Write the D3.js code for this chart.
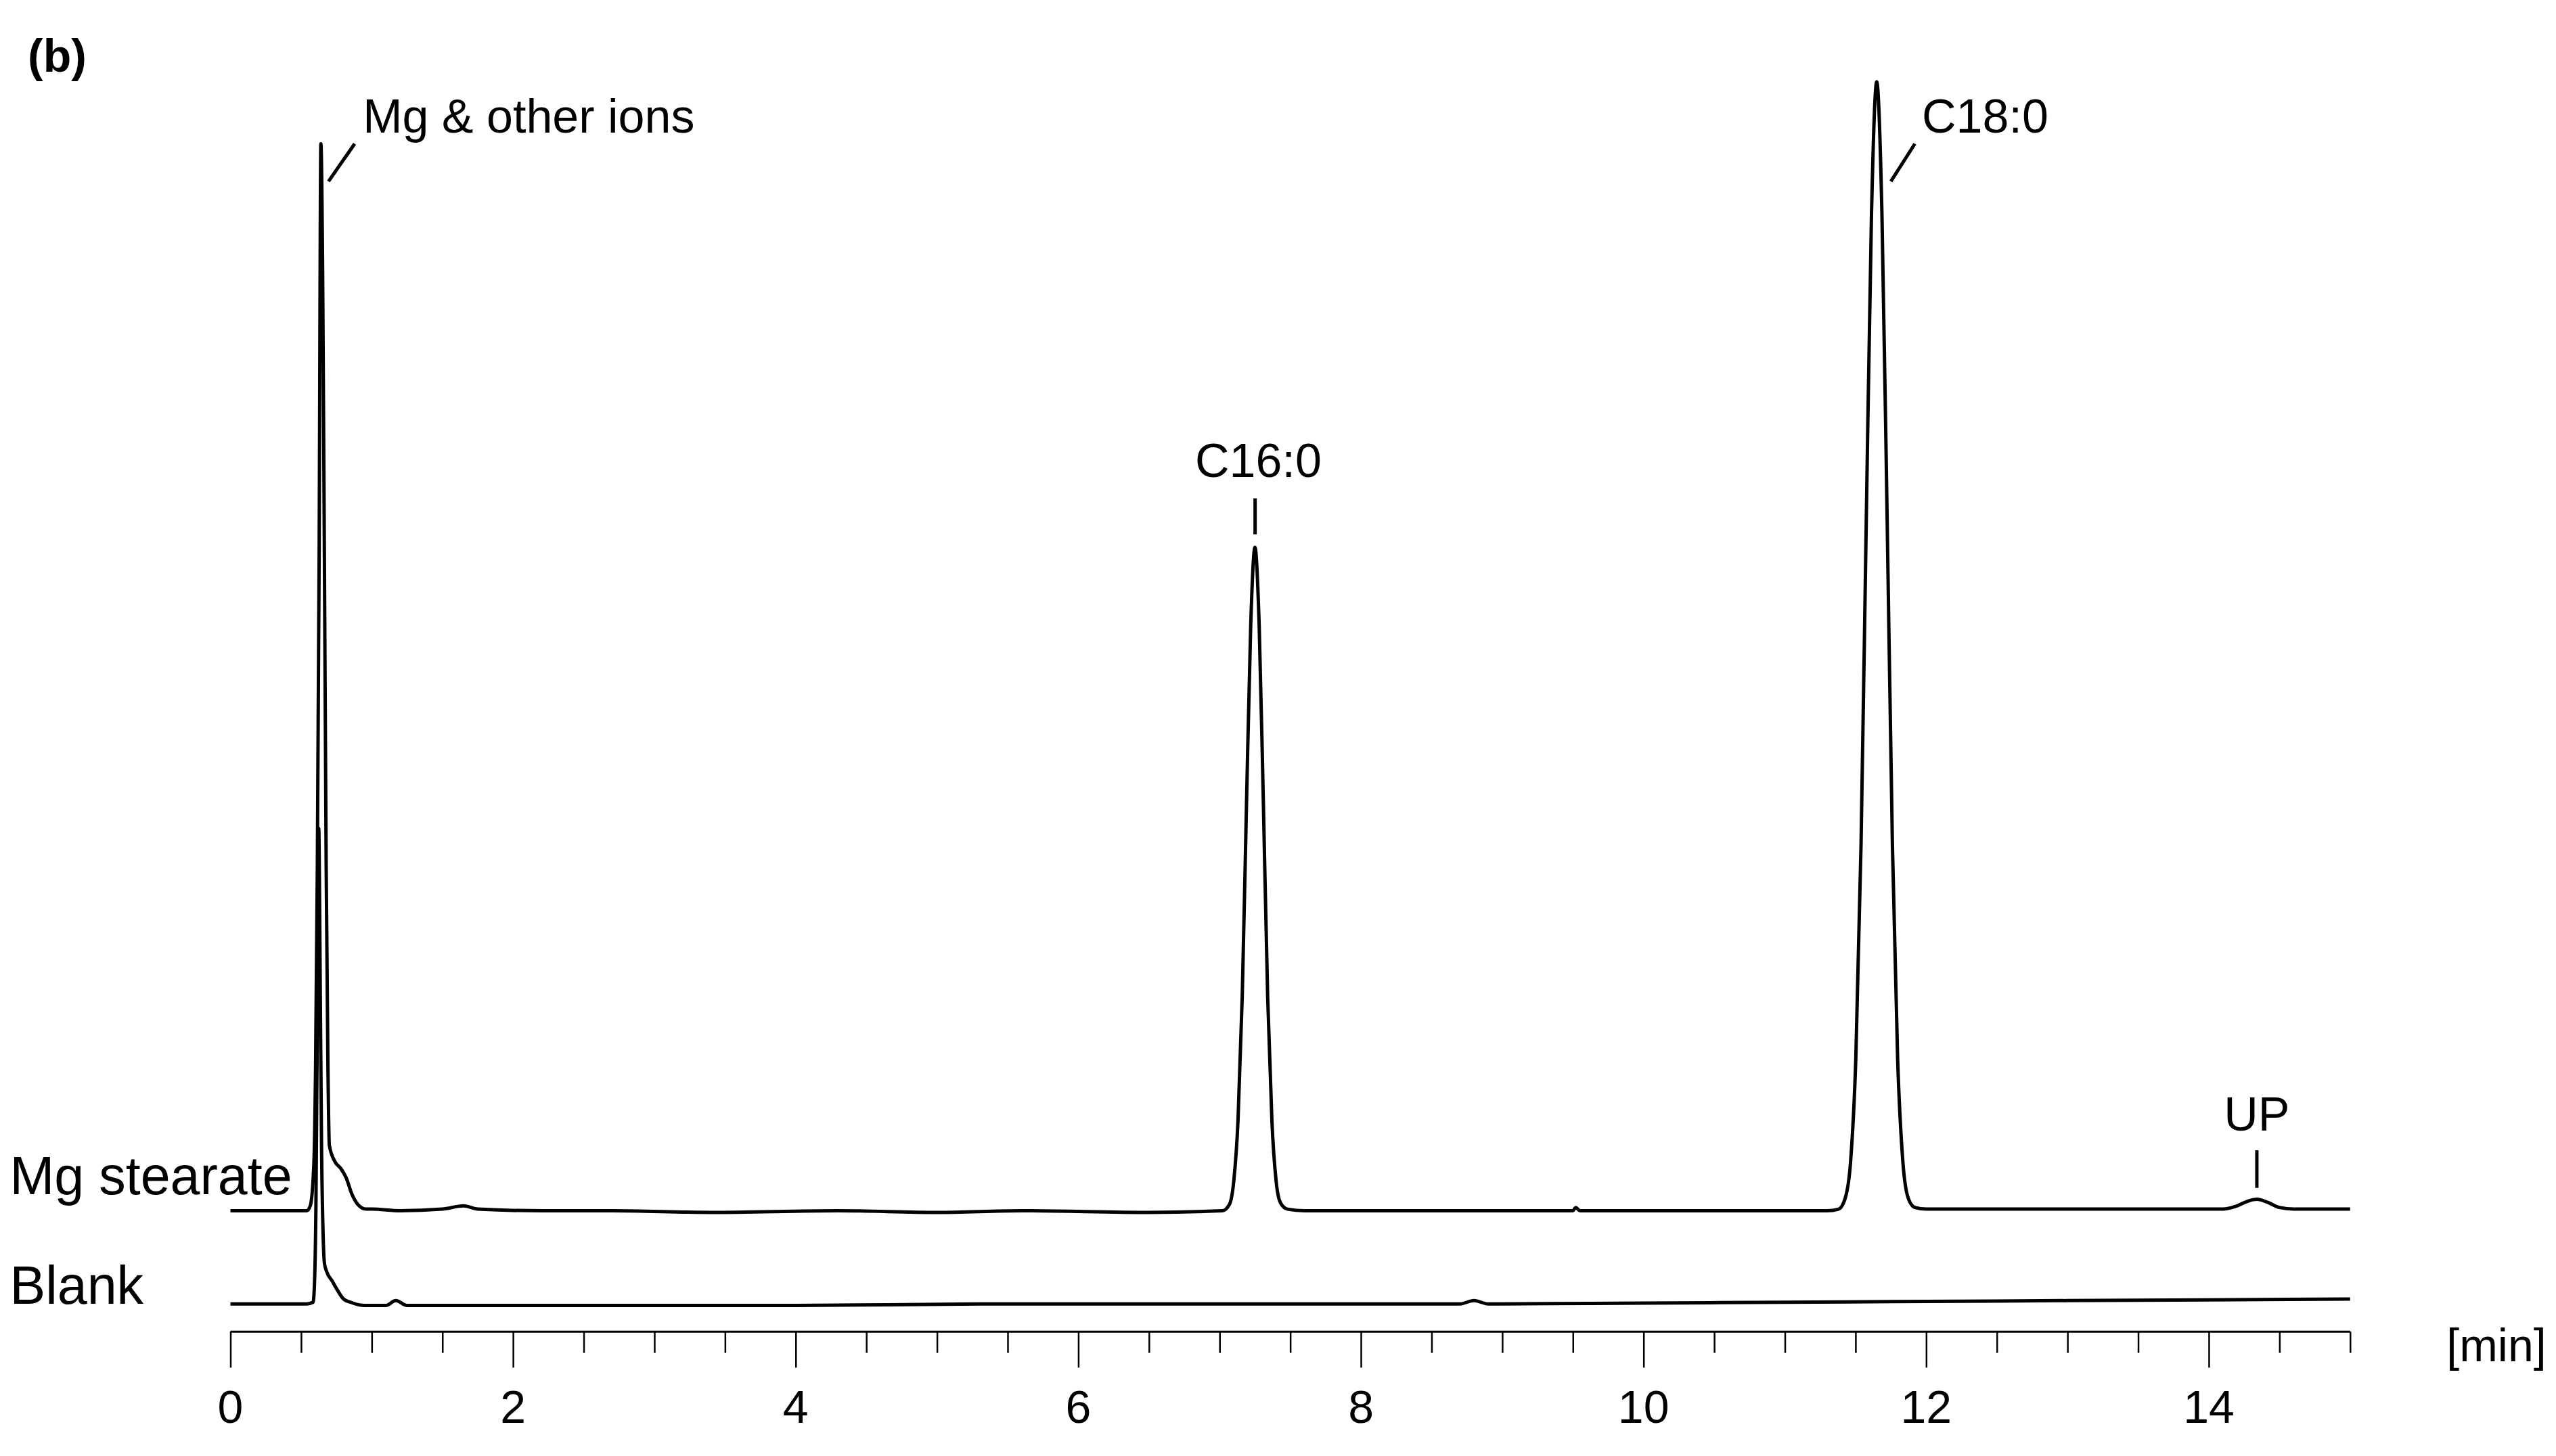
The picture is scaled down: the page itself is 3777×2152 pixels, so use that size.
<!DOCTYPE html>
<html><head><meta charset="utf-8">
<script src="https://cdn.jsdelivr.net/npm/d3@7"></script>
<style>body{margin:0;background:#fff}svg{display:block}text{font-family:"Liberation Sans",Arial,sans-serif;fill:#000}</style>
</head><body><svg id="c" width="3777" height="2152"></svg>
<script>
const xTicks=[0,2,4,6,8,10,12,14];
const stearateOffset=57;
// [time (min), signal] Mg stearate trace
const stearate=[[0,0],[0.3,0],[0.54,0],[0.565,3],[0.59,28],[0.6025,88],[0.615,211],[0.6275,398],[0.64,653],[0.6525,575],[0.665,398],[0.6775,211],[0.69,88],[0.70,40],[0.74,30],[0.78,26],[0.82,20],[0.86,10],[0.9,4],[0.96,1],[1.0,1],[1.2,0],[1.5,1],[1.65,3],[1.75,1],[2.2,0],[2.7,0],[3.4,-1],[4.3,0],[5.0,-1],[5.6,0],[6.5,-1],[7.02,0],[7.07,4],[7.10,18],[7.13,55],[7.16,131],[7.19,248],[7.22,358],[7.25,406],[7.28,358],[7.31,248],[7.34,131],[7.37,55],[7.40,18],[7.43,5],[7.48,1],[7.6,0],[8.5,0],[9.5,0],[9.52,2],[9.55,0],[10.5,0],[11.3,0],[11.38,1],[11.428,8],[11.465,30],[11.502,93],[11.539,224],[11.576,422],[11.613,610],[11.65,691],[11.687,610],[11.724,422],[11.761,224],[11.798,93],[11.835,30],[11.872,8],[11.92,2],[12.0,1],[13.0,1],[14.1,1],[14.2,3],[14.28,6],[14.34,7],[14.42,5],[14.5,2],[14.6,1],[15,1]];
// Blank trace
const blank=[[0,0],[0.3,0],[0.54,0],[0.585,1],[0.595,13],[0.605,60],[0.615,176],[0.62,240],[0.625,291],[0.63,256],[0.635,200],[0.645,94],[0.655,45],[0.665,25],[0.68,20],[0.72,14],[0.76,8],[0.8,3],[0.85,1],[0.95,-1],[1.1,-1],[1.17,2],[1.25,-1],[2,-1],[3,-1],[4,-1],[5.3,0],[6,0],[7,0],[8,0],[8.7,0],[8.8,2],[8.9,0],[10,0.5],[11,1],[12,1.5],[13,2],[14,2.5],[15,3]];
// peak labels: text position (time, signal) and leader line (t1,s1,t2,s2)
const peakLabels=[
 {t:"Mg & other ions",x:0.937,y:717,anchor:"start",lead:[0.694,687,0.879,710]},
 {t:"C16:0",x:7.274,y:506,anchor:"middle",lead:[7.251,471,7.251,493]},
 {t:"C18:0",x:11.97,y:717,anchor:"start",lead:[11.75,687,11.92,710]},
 {t:"UP",x:14.34,y:106,anchor:"middle",lead:[14.34,71,14.34,94]}];
const K=2.415;
const svg=d3.select("#c");
const x=d3.scaleLinear().domain([0,15]).range([141*K,1438*K]);
const y=d3.scaleLinear().domain([0,720]).range([798*K,78*K]);
const line=d3.line().x(d=>x(d[0])).y(d=>y(d[1])).curve(d3.curveMonotoneX);
svg.append("path").datum(stearate.map(d=>[d[0],d[1]+stearateOffset])).attr("d",line).attr("fill","none").attr("stroke","#000").attr("stroke-width",5);
svg.append("path").datum(blank).attr("d",line).attr("fill","none").attr("stroke","#000").attr("stroke-width",5);
const ax=svg.append("g").attr("transform",`translate(0,${815*K})`);
ax.call(d3.axisBottom(x).tickValues(d3.range(0,15.01,0.5)).tickSize(22*K).tickFormat(""));
ax.selectAll(".tick line").attr("stroke","#000").attr("stroke-width",2.5).attr("y2",d=>Math.abs(d%2)<1e-9?22*K:13*K);
ax.select(".domain").attr("stroke","#000").attr("stroke-width",3).attr("d",`M${x(0)},0H${x(15)}`);
xTicks.forEach(v=>ax.append("text").attr("x",x(v)).attr("y",56*K).attr("text-anchor","middle").attr("font-size",68).text(v));
svg.append("text").attr("x",1497*K).attr("y",833*K).attr("font-size",68).text("[min]");
svg.append("text").attr("x",6*K).attr("y",731*K).attr("font-size",79).text("Mg stearate");
svg.append("text").attr("x",6*K).attr("y",798*K).attr("font-size",79).text("Blank");
svg.append("text").attr("x",17*K).attr("y",44*K).attr("font-size",68).attr("font-weight","bold").text("(b)");
peakLabels.forEach(l=>{
 svg.append("text").attr("x",x(l.x)).attr("y",y(l.y)).attr("text-anchor",l.anchor).attr("font-size",70).text(l.t);
 svg.append("line").attr("x1",x(l.lead[0])).attr("y1",y(l.lead[1])).attr("x2",x(l.lead[2])).attr("y2",y(l.lead[3])).attr("stroke","#000").attr("stroke-width",5);
});
</script></body></html>
